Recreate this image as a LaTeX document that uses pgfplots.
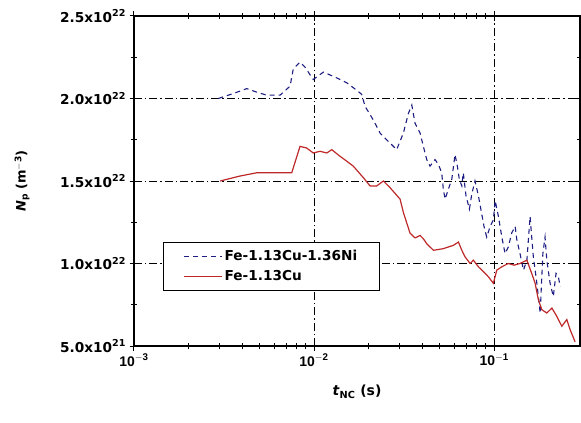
\documentclass[border=0pt]{standalone}
\usepackage{fontspec}
\setmainfont{DejaVu Sans}
\newfontfamily\arialf{Liberation Sans}
\usepackage{pgfplots}
\pgfplotsset{compat=1.18}
\definecolor{cblue}{RGB}{30,30,130}
\definecolor{cred}{RGB}{190,40,40}
\pgfplotsset{mylegimg/.style={legend image code/.code={\draw[##1] (0bp,0bp) -- (38bp,0bp);}}}
\begin{document}
\begin{tikzpicture}
\useasboundingbox (-134bp,-77bp) rectangle (447bp,346bp);
\begin{axis}[
  at={(0,0)}, anchor=south west,
  scale only axis, width=446bp, height=330bp,
  xmode=log, xmin=1e-3, xmax=0.3, ymin=0.5, ymax=2.5,
  xtick={0.001,0.01,0.1},
  xticklabels={10\textsuperscript{$-$3},10\textsuperscript{$-$2},10\textsuperscript{$-$1}},
  ytick={0.5,1,1.5,2,2.5},
  yticklabels={5.0x10\textsuperscript{21},1.0x10\textsuperscript{22},1.5x10\textsuperscript{22},2.0x10\textsuperscript{22},2.5x10\textsuperscript{22}},
  minor ytick={0.75,1.25,1.75,2.25},
  grid=major,
  major grid style={black, line width=1bp, dash pattern=on 8bp off 3bp on 1.5bp off 3bp},
  axis line style={line width=1.3bp},
  every tick/.style={black, line width=1bp},
  tick align=center, major tick length=9bp, minor tick length=6bp,
  yticklabel style={font=\fontsize{13.7}{16}\selectfont\bfseries},
  xticklabel style={font=\arialf\fontsize{14}{16}\selectfont\bfseries},
  xlabel={\textit{t}\textsubscript{NC} (s)},
  ylabel={\textit{N}\textsubscript{p} (m\textsuperscript{$-$3})},
  xlabel style={font=\fontsize{14}{16}\selectfont\bfseries, at={(axis description cs:0.5,-0.139)}, anchor=center},
  ylabel style={font=\fontsize{13}{15}\selectfont\bfseries, at={(axis description cs:-0.251,0.5)}, anchor=center, rotate=0},
  legend cell align=left,
  legend style={at={(axis description cs:0.065,0.315)}, anchor=north west,
    draw=black, fill=white, line width=1bp, font=\fontsize{13.7}{16}\selectfont\bfseries,
    inner xsep=20bp, inner ysep=6bp, row sep=4bp},
]
\addplot[cblue, line width=1.1bp, dash pattern=on 5bp off 4bp, mylegimg] coordinates {
(0.00294,2.00) (0.00356,2.03) (0.00423,2.06) (0.00476,2.04) (0.00546,2.02) (0.00647,2.02)
(0.00736,2.075) (0.00767,2.18) (0.00836,2.22) (0.00891,2.19) (0.0099,2.115) (0.01127,2.16)
(0.01337,2.125) (0.0152,2.095) (0.01726,2.05) (0.0184,2.025) (0.0192,1.953) (0.02133,1.87)
(0.02328,1.79) (0.02642,1.73) (0.02877,1.69) (0.03133,1.79) (0.03343,1.91) (0.03492,1.96)
(0.03639,1.85) (0.03883,1.79) (0.04046,1.71) (0.04227,1.63) (0.04406,1.59) (0.04699,1.63)
(0.04909,1.60) (0.05117,1.55) (0.05224,1.45) (0.05346,1.39) (0.05572,1.45) (0.05821,1.51)
(0.06067,1.66) (0.06252,1.59) (0.06412,1.51) (0.0662,1.47) (0.06745,1.55) (0.06982,1.41)
(0.07295,1.33) (0.07516,1.42) (0.07834,1.50) (0.08185,1.41) (0.08472,1.32) (0.0879,1.225)
(0.091,1.16) (0.0951,1.225) (0.0991,1.265) (0.1014,1.38) (0.1057,1.285) (0.1104,1.16)
(0.1151,1.06) (0.1199,1.10) (0.1253,1.185) (0.1309,1.225) (0.1337,1.145) (0.1393,1.06)
(0.1456,0.96) (0.1521,1.02) (0.1585,1.285) (0.1618,1.16) (0.1652,1.04) (0.1710,0.92)
(0.1762,0.80) (0.1803,0.70) (0.1866,1.06) (0.1919,1.16) (0.1963,1.02) (0.2047,0.88)
(0.2133,0.80) (0.2208,0.94) (0.2275,0.92) (0.2328,0.86)
};
\addlegendentry{Fe-1.13Cu-1.36Ni}
\addplot[cred, line width=1.2bp, mylegimg] coordinates {
(0.00301,1.50) (0.00388,1.53) (0.00481,1.55) (0.00752,1.55) (0.00836,1.71) (0.0091,1.70)
(0.0099,1.67) (0.0108,1.68) (0.01177,1.67) (0.01254,1.69) (0.01393,1.65) (0.0152,1.62)
(0.01652,1.59) (0.0188,1.52) (0.02047,1.47) (0.02229,1.47) (0.02427,1.50) (0.02642,1.46)
(0.03006,1.39) (0.03133,1.31) (0.03411,1.185) (0.03639,1.155) (0.03883,1.17) (0.04046,1.15)
(0.04227,1.12) (0.04603,1.08) (0.05224,1.09) (0.05941,1.11) (0.06339,1.13) (0.0662,1.08)
(0.069,1.04) (0.07362,1.00) (0.07674,1.02) (0.08185,0.98) (0.0873,0.95) (0.0929,0.92)
(0.0991,0.88) (0.1035,0.96) (0.1104,0.98) (0.1199,1.00) (0.1291,0.99) (0.1393,1.00)
(0.1521,1.02) (0.1618,0.94) (0.1690,0.88) (0.1762,0.78) (0.1841,0.72) (0.1963,0.70)
(0.2094,0.73) (0.2229,0.68) (0.2377,0.62) (0.2535,0.66) (0.2642,0.60) (0.2818,0.525)
};
\addlegendentry{Fe-1.13Cu}
\end{axis}
\end{tikzpicture}
\end{document}
